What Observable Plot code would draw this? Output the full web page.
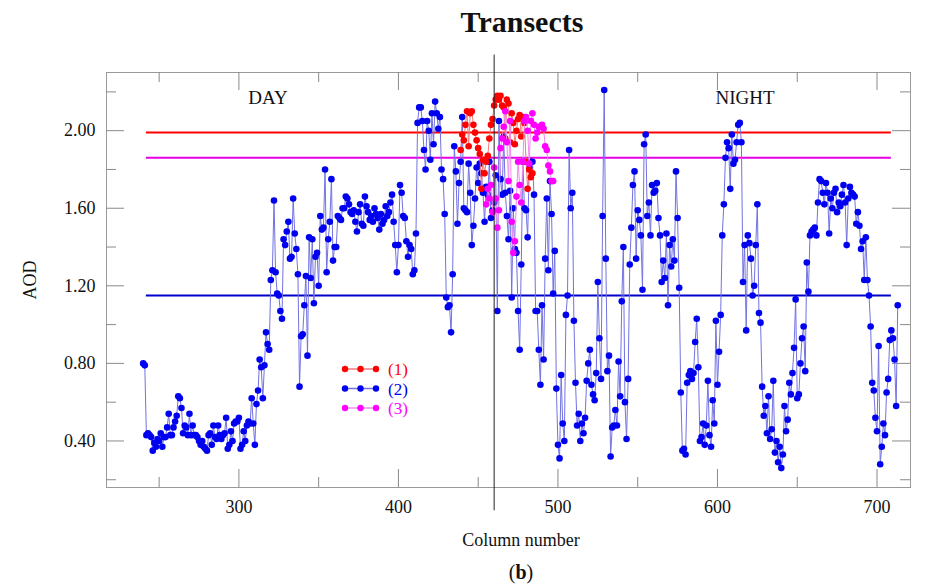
<!DOCTYPE html>
<html><head><meta charset="utf-8">
<script src="https://cdn.jsdelivr.net/npm/d3@7"></script>
<script src="https://cdn.jsdelivr.net/npm/@observablehq/plot@0.6"></script>
<style>
body{margin:0;background:#fff;font-family:"Liberation Serif",serif;}
#wrap{position:relative;width:927px;height:585px;overflow:hidden;background:#fff}
#chart{position:absolute;left:0;top:0}
.t{position:absolute;white-space:nowrap;color:#111;transform:translate(-50%,-50%);line-height:1}
#legend{position:absolute;left:338px;top:358px}
</style></head><body>
<div id="wrap">
  <div id="chart"></div>
  <div class="t" style="left:522px;top:22px;font-size:30px;font-weight:bold">Transects</div>
  <div class="t" style="left:268px;top:97px;font-size:19px">DAY</div>
  <div class="t" style="left:745px;top:97px;font-size:19px">NIGHT</div>
  <div class="t" style="left:521px;top:540px;font-size:18px">Column number</div>
  <div class="t" style="left:521px;top:572px;font-size:20px">(<b>b</b>)</div>
  <div class="t" style="left:30px;top:280px;font-size:18px;transform:translate(-50%,-50%) rotate(-90deg)">AOD</div>
  <div id="legend"></div>
</div>
<script>
// ---- data ----
const blueStartColumn = 240;
const blueAOD = [
  0.80,0.79,0.43,0.44,0.43,0.42,0.35,0.39,0.37,0.41,
  0.40,0.44,0.37,0.42,0.42,0.47,0.54,0.43,0.43,0.47,
  0.50,0.53,0.63,0.62,0.57,0.44,0.48,0.47,0.43,0.54,
  0.43,0.48,0.43,0.43,0.42,0.40,0.38,0.40,0.37,0.36,
  0.35,0.43,0.44,0.38,0.48,0.42,0.41,0.48,0.43,0.41,
  0.43,0.44,0.52,0.36,0.38,0.45,0.40,0.49,0.50,0.50,
  0.52,0.36,0.38,0.45,0.40,0.48,0.50,0.49,0.62,0.49,
  0.38,0.59,0.66,0.82,0.78,0.62,0.79,0.96,0.90,0.87,
  1.23,1.28,1.64,1.27,1.16,1.15,1.07,1.03,1.44,1.41,
  1.48,1.53,1.34,1.35,1.65,1.47,1.39,1.26,0.68,0.94,
  0.95,1.10,1.25,0.84,1.45,1.24,1.44,1.11,1.35,1.37,
  1.20,1.56,1.49,1.50,1.80,1.27,1.44,1.53,1.75,1.33,
  1.40,1.40,1.56,1.55,1.54,1.60,1.60,1.66,1.65,1.62,
  1.58,1.57,1.59,1.53,1.48,1.58,1.62,1.52,1.51,1.66,
  1.61,1.58,1.54,1.56,1.53,1.60,1.57,1.55,1.49,1.57,
  1.52,1.54,1.61,1.56,1.58,1.63,1.67,1.53,1.41,1.27,
  1.41,1.72,1.68,1.56,1.55,1.43,1.35,1.41,1.39,1.26,
  1.28,1.47,2.04,2.12,2.12,2.05,1.90,1.80,2.05,2.00,
  1.85,2.09,1.93,2.15,2.09,2.01,2.07,1.80,1.75,1.57,
  1.14,1.09,1.10,0.96,1.26,1.92,1.79,1.52,1.73,1.84,
  2.07,1.60,1.59,1.58,1.83,1.68,1.41,1.51,1.65,1.81,
  1.73,1.83,1.78,1.68,1.53,1.71,1.67,1.84,1.55,1.59,
  1.63,1.77,1.07,2.05,1.75,1.67,1.97,1.68,1.56,1.44,
  1.69,1.14,1.60,1.39,1.37,1.07,0.87,1.31,1.84,1.60,
  1.59,1.45,1.81,1.84,1.84,1.67,1.07,1.07,0.87,0.69,
  1.10,0.82,1.34,1.65,1.28,1.74,1.57,1.16,1.38,0.67,
  0.38,0.31,0.74,0.49,0.40,1.05,1.15,1.90,1.60,1.68,
  1.02,0.70,0.48,0.54,0.40,0.49,0.44,0.52,0.71,0.80,
  0.87,0.69,0.64,0.61,0.75,1.22,0.93,0.72,1.56,2.21,
  1.34,0.76,0.84,0.32,0.47,0.48,0.56,0.48,0.81,0.63,
  1.12,1.40,0.60,0.41,0.72,1.31,1.50,1.72,1.79,1.34,
  1.59,1.54,1.46,1.18,1.93,1.98,1.56,1.63,1.46,1.72,
  1.68,1.69,1.73,1.55,1.46,1.22,1.33,1.24,1.47,1.10,
  1.41,1.30,1.44,1.33,1.79,1.55,1.19,0.65,0.35,0.36,
  0.33,0.70,0.74,0.76,0.72,0.75,0.91,1.03,0.78,0.40,
  0.42,0.49,0.38,0.48,0.71,0.43,0.37,0.61,0.49,1.02,
  0.69,0.86,1.05,1.46,1.62,1.86,1.94,1.91,1.70,1.98,
  1.83,1.85,1.94,2.03,2.04,1.94,1.22,1.41,0.97,1.46,
  1.42,1.34,1.15,1.20,1.41,1.62,1.06,1.01,0.68,0.53,
  0.58,0.44,0.63,0.41,0.46,0.71,0.34,0.40,0.29,0.37,
  0.26,0.33,0.58,0.45,0.51,0.70,0.64,0.75,0.88,1.13,
  0.62,0.64,0.80,0.93,0.99,0.76,1.32,1.17,1.46,1.48,
  1.49,1.50,1.46,1.63,1.75,1.74,1.68,1.62,1.73,1.68,
  1.47,1.65,1.60,1.68,1.70,1.58,1.63,1.61,1.67,1.72,
  1.63,1.41,1.65,1.71,1.68,1.67,1.66,1.52,1.58,1.51,
  1.39,1.43,1.23,1.45,1.23,1.15,0.99,0.70,0.66,0.52,
  0.45,0.89,0.28,0.37,0.49,0.43,0.65,0.72,0.92,0.97,
  0.93,0.82,0.58,1.10
];
const redStartColumn = 439;
const redAOD = [
  1.90,1.98,1.95,2.03,2.10,1.92,2.09,2.10,2.03,1.99,
  1.95,1.91,1.88,1.70,1.85,1.78,1.84,1.87,1.96,2.03,
  2.06,2.13,2.16,2.18,2.16,2.18,2.13,2.12,1.96,2.16,
  2.14,1.94,2.09,2.04,1.93,2.00,2.06,2.08,1.97,2.07,
  2.04,1.84,1.70,1.80,1.76,1.78
];
const magentaStartColumn = 455;
const magentaAOD = [
  1.62,1.70,1.65,1.72,1.58,1.81,1.65,1.50,1.59,1.91,
  1.96,2.02,2.10,1.94,1.74,2.05,1.53,1.37,1.43,1.66,
  1.84,1.72,1.63,1.84,2.05,2.07,2.00,1.83,2.05,2.09,
  2.03,1.96,1.99,2.02,2.02,2.03,2.01,1.92,1.90,1.82,
  1.79,1.74,1.74
];
const thresholdAOD = [1.99, 1.86, 1.15];          // (1), (3), (2) mean levels
const thresholdColumns = [242, 709];              // extent of the level lines
const dividerColumn = 460;                        // day / night divider
const dividerAOD = [0.04, 2.39];
const xTicks = [300, 400, 500, 600, 700];
const xMinorTicks = [250, 350, 450, 550, 650];
const yTicks = [0.40, 0.80, 1.20, 1.60, 2.00];
const yMinorTicks = [0.20, 0.60, 1.00, 1.40, 1.80, 2.20];
const seriesLabels = ["(1)", "(2)", "(3)"];

// ---- styles ----
const C = {
  red: "#ff0000", redLine: "#f27a7a",
  blue: "#0000f0", blueLine: "#7272e2",
  mag: "#ff00ff", magLine: "#f28af2",
  ruleRed: "#ff0000", ruleMag: "#e600e6", ruleBlue: "#0000cc"
};
const toRows = (start, arr) => arr.map((v, i) => ({col: start + i, aod: v}));
const blue = toRows(blueStartColumn, blueAOD);
const red = toRows(redStartColumn, redAOD);
const mag = toRows(magentaStartColumn, magentaAOD);
const ruleColors = [C.ruleRed, C.ruleMag, C.ruleBlue];

const W = 927, H = 585, mL = 106, mR = 17, mT = 72, mB = 98;
const pw = W - mL - mR, ph = H - mT - mB;
const tickColor = "#8a8a8a";

const chart = Plot.plot({
  width: W, height: H,
  marginLeft: mL, marginRight: mR, marginTop: mT, marginBottom: mB,
  x: {domain: [217, 721]},
  y: {domain: [0.16, 2.30]},
  style: {fontFamily: '"Liberation Serif", serif', fontSize: "18px", color: "#111", background: "white", overflow: "visible"},
  marks: [
    Plot.frame({stroke: "#9a9a9a"}),
    Plot.ruleX(xTicks, {x: d => d, insetTop: ph - 18, stroke: tickColor}),
    Plot.ruleX(xMinorTicks, {x: d => d, insetTop: ph - 10, stroke: tickColor}),
    Plot.ruleX(xTicks, {x: d => d, insetBottom: ph - 18, stroke: tickColor}),
    Plot.ruleX(xMinorTicks, {x: d => d, insetBottom: ph - 10, stroke: tickColor}),
    Plot.ruleY(yTicks, {y: d => d, insetRight: pw - 18, stroke: tickColor}),
    Plot.ruleY(yMinorTicks, {y: d => d, insetRight: pw - 10, stroke: tickColor}),
    Plot.ruleY(yTicks, {y: d => d, insetLeft: pw - 18, stroke: tickColor}),
    Plot.ruleY(yMinorTicks, {y: d => d, insetLeft: pw - 10, stroke: tickColor}),
    Plot.axisX({ticks: xTicks, tickSize: 0, tickPadding: 13, fontSize: 18, fontFamily: '"Liberation Serif", serif', label: null, tickFormat: d3.format("d")}),
    Plot.axisY({ticks: yTicks, tickSize: 0, tickPadding: 11, fontSize: 18, fontFamily: '"Liberation Serif", serif', label: null, tickFormat: d3.format(".2f")}),
    ...thresholdAOD.map((v, i) => Plot.ruleY([v], {y: d => d, x1: () => thresholdColumns[0], x2: () => thresholdColumns[1], stroke: ruleColors[i], strokeWidth: 2})),
    Plot.line(blue, {x: "col", y: "aod", stroke: C.blueLine, strokeWidth: 1}),
    Plot.dot(blue, {x: "col", y: "aod", r: 3.3, fill: C.blue}),
    Plot.line(red, {x: "col", y: "aod", stroke: C.redLine, strokeWidth: 1}),
    Plot.dot(red, {x: "col", y: "aod", r: 3.3, fill: C.red}),
    Plot.line(mag, {x: "col", y: "aod", stroke: C.magLine, strokeWidth: 1}),
    Plot.dot(mag, {x: "col", y: "aod", r: 3.3, fill: C.mag}),
    Plot.ruleX([dividerColumn], {x: d => d, y1: () => dividerAOD[0], y2: () => dividerAOD[1], stroke: "#222", strokeWidth: 1})
  ]
});
document.getElementById("chart").appendChild(chart);

// legend (overlay)
const legendColors = [[C.red, C.redLine], [C.blue, C.blueLine], [C.mag, C.magLine]];
const lg = d3.select("#legend").append("svg").attr("width", 90).attr("height", 62);
seriesLabels.forEach((lab, i) => {
  const y = 11 + i * 19.5;
  const [dc, lc] = legendColors[i];
  lg.append("line").attr("x1", 7).attr("x2", 38).attr("y1", y).attr("y2", y).attr("stroke", lc).attr("stroke-width", 1.5);
  [7, 22.5, 38].forEach(x => lg.append("circle").attr("cx", x).attr("cy", y).attr("r", 3.2).attr("fill", dc));
  lg.append("text").attr("x", 50).attr("y", y).attr("dy", "0.36em").attr("fill", dc)
    .attr("font-family", '"Liberation Serif", serif').attr("font-size", 17).text(lab);
});
</script>
</body></html>
